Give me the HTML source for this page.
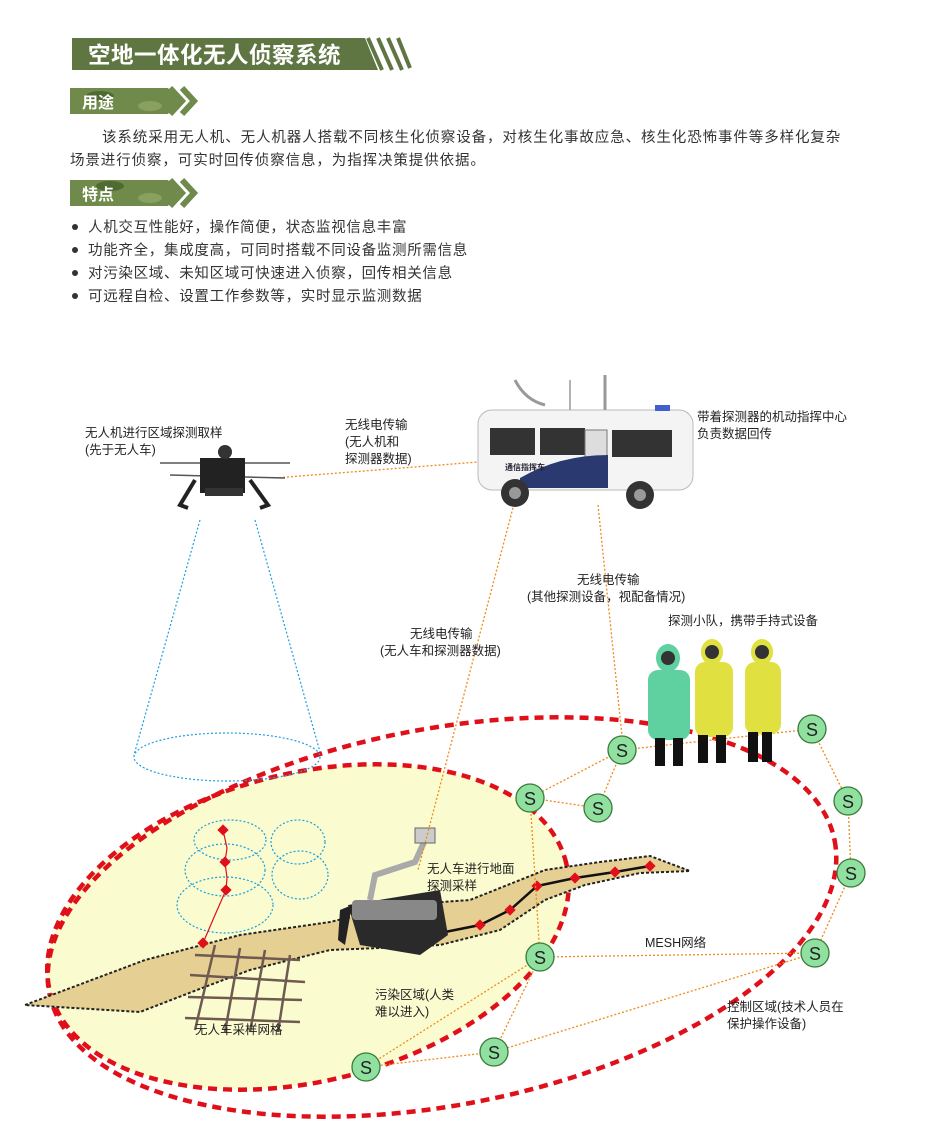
<!DOCTYPE html>
<html><head><meta charset="utf-8"><style>
body{margin:0;background:#fff;}
svg{display:block;font-family:"Liberation Sans","Noto Sans CJK SC",sans-serif;}
.t{font-size:12.5px;fill:#222;}
.p{font-size:14.5px;fill:#333;}
</style></head><body>
<svg width="932" height="1136" viewBox="0 0 932 1136" xmlns="http://www.w3.org/2000/svg">
<!-- header -->
<polygon points="72,38 365,38 378,70 72,70" fill="#5f7642"/>
<g stroke="#5f7642" stroke-width="4">
<line x1="368" y1="38" x2="382" y2="70"/><line x1="378" y1="38" x2="392" y2="70"/>
<line x1="388" y1="38" x2="402" y2="70"/><line x1="398" y1="38" x2="410" y2="68"/>
</g>
<text x="88" y="63" font-size="22.5" font-weight="bold" fill="#fff" letter-spacing="0.5">空地一体化无人侦察系统</text>
<!-- section bars -->
<g>
<polygon points="70,88 168,88 178,101 168,114 70,114" fill="#6f8a4a"/>
<ellipse cx="100" cy="96" rx="14" ry="5" fill="#4f6a32"/><ellipse cx="150" cy="106" rx="12" ry="5" fill="#8aa060"/>
<polyline points="170,88 182,101 170,114" fill="none" stroke="#6f8a4a" stroke-width="6"/>
<polyline points="182,88 194,101 182,114" fill="none" stroke="#6f8a4a" stroke-width="6"/>
<text x="82" y="108" font-size="16" font-weight="bold" fill="#fff">用途</text>
</g>
<g>
<polygon points="70,180 168,180 178,193 168,206 70,206" fill="#6f8a4a"/>
<ellipse cx="110" cy="186" rx="14" ry="5" fill="#4f6a32"/><ellipse cx="150" cy="198" rx="12" ry="5" fill="#8aa060"/>
<polyline points="170,180 182,193 170,206" fill="none" stroke="#6f8a4a" stroke-width="6"/>
<polyline points="182,180 194,193 182,206" fill="none" stroke="#6f8a4a" stroke-width="6"/>
<text x="82" y="200" font-size="16" font-weight="bold" fill="#fff">特点</text>
</g>
<text class="p" x="102" y="142" letter-spacing="0.9">该系统采用无人机、无人机器人搭载不同核生化侦察设备，对核生化事故应急、核生化恐怖事件等多样化复杂</text>
<text class="p" x="70" y="165" letter-spacing="0.9">场景进行侦察，可实时回传侦察信息，为指挥决策提供依据。</text>
<g class="p" letter-spacing="0.7">
<circle cx="75" cy="227" r="3" fill="#333"/><text x="88" y="232">人机交互性能好，操作简便，状态监视信息丰富</text>
<circle cx="75" cy="250" r="3" fill="#333"/><text x="88" y="255">功能齐全，集成度高，可同时搭载不同设备监测所需信息</text>
<circle cx="75" cy="273" r="3" fill="#333"/><text x="88" y="278">对污染区域、未知区域可快速进入侦察，回传相关信息</text>
<circle cx="75" cy="296" r="3" fill="#333"/><text x="88" y="301">可远程自检、设置工作参数等，实时显示监测数据</text>
</g>

<!-- yellow contaminated zone -->
<ellipse cx="308" cy="927" rx="266" ry="154" transform="rotate(-14 308 927)" fill="#fafcd0" stroke="#e0101a" stroke-width="4.5" stroke-dasharray="9,6"/>
<!-- big control zone -->
<ellipse cx="442" cy="917" rx="400" ry="188" transform="rotate(-11 442 917)" fill="none" stroke="#e0101a" stroke-width="4.5" stroke-dasharray="9,6"/>

<!-- cone -->
<g fill="none" stroke="#1aa0e0" stroke-width="1.2" stroke-dasharray="2,2">
<line x1="200" y1="520" x2="134" y2="755"/><line x1="255" y1="520" x2="320" y2="752"/>
<ellipse cx="227" cy="757" rx="93" ry="24"/>
<ellipse cx="230" cy="840" rx="36" ry="20"/><ellipse cx="298" cy="842" rx="27" ry="22"/>
<ellipse cx="225" cy="870" rx="40" ry="26"/><ellipse cx="300" cy="875" rx="28" ry="24"/>
<ellipse cx="225" cy="905" rx="48" ry="28"/>
</g>

<!-- band -->
<polygon points="25,1005 145,960 240,935 330,922 400,905 470,900 520,880 545,870 600,862 650,856 690,871 640,873 585,885 545,900 500,930 440,945 380,948 330,950 250,970 210,985 140,1012" fill="#e6cf93" stroke="#222" stroke-width="2" stroke-dasharray="3,2"/>
<!-- grid -->
<g stroke="#6e5a50" stroke-width="2.5">
<line x1="195" y1="955" x2="300" y2="960"/><line x1="190" y1="975" x2="305" y2="982"/>
<line x1="188" y1="997" x2="302" y2="1000"/><line x1="185" y1="1018" x2="300" y2="1022"/>
<line x1="215" y1="945" x2="195" y2="1030"/><line x1="240" y1="948" x2="225" y2="1032"/>
<line x1="265" y1="950" x2="250" y2="1032"/><line x1="290" y1="955" x2="278" y2="1032"/>
</g>
<!-- red sample line -->
<polyline points="223,830 227,848 225,862 227,878 226,890 215,915 203,943" fill="none" stroke="#e0101a" stroke-width="1.2"/>
<g fill="#e0101a">
<rect x="219" y="826" width="8" height="8" transform="rotate(45 223 830)"/>
<rect x="221" y="858" width="8" height="8" transform="rotate(45 225 862)"/>
<rect x="222" y="886" width="8" height="8" transform="rotate(45 226 890)"/>
<rect x="199" y="939" width="8" height="8" transform="rotate(45 203 943)"/>
</g>
<polyline points="430,935 480,925 510,910 537,886 575,878 615,872 650,866" fill="none" stroke="#111" stroke-width="2.5"/>
<g fill="#e0101a">
<rect x="476" y="921" width="8" height="8" transform="rotate(45 480 925)"/>
<rect x="506" y="906" width="8" height="8" transform="rotate(45 510 910)"/>
<rect x="533" y="882" width="8" height="8" transform="rotate(45 537 886)"/>
<rect x="571" y="874" width="8" height="8" transform="rotate(45 575 878)"/>
<rect x="611" y="868" width="8" height="8" transform="rotate(45 615 872)"/>
<rect x="646" y="862" width="8" height="8" transform="rotate(45 650 866)"/>
</g>

<!-- robot -->
<g>
<polygon points="348,905 440,890 448,935 420,955 360,945" fill="#2a2a2a"/>
<rect x="352" y="900" width="85" height="20" fill="#888" rx="4"/>
<polyline points="370,900 375,875 415,862 425,840" fill="none" stroke="#aaa" stroke-width="6"/>
<rect x="415" y="828" width="20" height="15" fill="#ccc" stroke="#666"/>
<polygon points="340,910 352,905 345,945 338,940" fill="#222"/>
</g>

<!-- orange dotted edges -->
<g stroke="#f08a1a" stroke-width="1.3" stroke-dasharray="2,2" fill="none">
<line x1="275" y1="478" x2="478" y2="462"/>
<line x1="515" y1="500" x2="418" y2="870"/>
<line x1="598" y1="505" x2="622" y2="736"/>
<line x1="622" y1="750" x2="530" y2="798"/><line x1="622" y1="750" x2="598" y2="808"/>
<line x1="622" y1="750" x2="812" y2="729"/><line x1="530" y1="798" x2="598" y2="808"/>
<line x1="812" y1="729" x2="848" y2="801"/><line x1="848" y1="801" x2="851" y2="873"/>
<line x1="851" y1="873" x2="815" y2="953"/><line x1="815" y1="953" x2="540" y2="957"/>
<line x1="815" y1="953" x2="494" y2="1052"/><line x1="530" y1="798" x2="540" y2="957"/>
<line x1="540" y1="957" x2="366" y2="1067"/><line x1="540" y1="957" x2="494" y2="1052"/>
<line x1="494" y1="1052" x2="366" y2="1067"/>
</g>

<!-- drone -->
<g>
<line x1="160" y1="463" x2="290" y2="463" stroke="#555" stroke-width="1.5"/>
<line x1="170" y1="475" x2="285" y2="478" stroke="#555" stroke-width="1.5"/>
<rect x="200" y="458" width="45" height="35" fill="#222"/>
<circle cx="225" cy="452" r="7" fill="#333"/>
<polyline points="195,480 180,505 188,508" fill="none" stroke="#222" stroke-width="4"/>
<polyline points="250,480 268,505 260,508" fill="none" stroke="#222" stroke-width="4"/>
<rect x="205" y="488" width="38" height="8" fill="#333"/>
</g>

<!-- truck -->
<g>
<rect x="478" y="410" width="215" height="80" rx="14" fill="#f4f4f4" stroke="#bbb"/>
<rect x="490" y="428" width="45" height="27" fill="#333"/>
<rect x="540" y="428" width="45" height="27" fill="#333"/>
<rect x="612" y="430" width="60" height="27" fill="#333"/>
<rect x="585" y="430" width="22" height="55" fill="#ddd" stroke="#777"/>
<path d="M520,478 Q560,455 608,455 L608,488 L520,488Z" fill="#2a3a70"/>
<circle cx="515" cy="493" r="14" fill="#333"/><circle cx="640" cy="495" r="14" fill="#333"/>
<circle cx="515" cy="493" r="6" fill="#999"/><circle cx="640" cy="495" r="6" fill="#999"/>
<text x="505" y="470" font-size="8" font-weight="bold" fill="#223">通信指挥车</text>
<path d="M515,380 Q525,400 545,405" fill="none" stroke="#999" stroke-width="3"/>
<line x1="605" y1="375" x2="605" y2="410" stroke="#999" stroke-width="3"/>
<line x1="570" y1="380" x2="570" y2="410" stroke="#999" stroke-width="1.5"/>
<rect x="655" y="405" width="15" height="6" fill="#4060d0"/>
</g>

<!-- people -->
<g>
<ellipse cx="668" cy="658" rx="12" ry="14" fill="#5fd0a0"/>
<rect x="648" y="670" width="42" height="70" rx="10" fill="#5fd0a0"/>
<rect x="655" y="738" width="10" height="28" fill="#111"/><rect x="673" y="738" width="10" height="28" fill="#111"/>
<ellipse cx="712" cy="652" rx="11" ry="13" fill="#e0e040"/>
<rect x="695" y="662" width="38" height="75" rx="10" fill="#e0e040"/>
<rect x="698" y="735" width="10" height="28" fill="#111"/><rect x="716" y="735" width="10" height="28" fill="#111"/>
<ellipse cx="762" cy="652" rx="11" ry="13" fill="#e0e040"/>
<rect x="745" y="662" width="36" height="72" rx="10" fill="#e0e040"/>
<rect x="748" y="732" width="10" height="30" fill="#111"/><rect x="762" y="732" width="10" height="30" fill="#111"/>
<circle cx="668" cy="658" r="7" fill="#333"/><circle cx="712" cy="652" r="7" fill="#333"/><circle cx="762" cy="652" r="7" fill="#333"/>
</g>

<!-- S nodes -->
<g font-size="18" text-anchor="middle" fill="#222">
<g fill="#90e0a0" stroke="#3a7a3a" stroke-width="1.3">
<circle cx="622" cy="750" r="14"/><circle cx="530" cy="798" r="14"/><circle cx="598" cy="808" r="14"/>
<circle cx="812" cy="729" r="14"/><circle cx="848" cy="801" r="14"/><circle cx="851" cy="873" r="14"/>
<circle cx="815" cy="953" r="14"/><circle cx="540" cy="957" r="14"/><circle cx="494" cy="1052" r="14"/>
<circle cx="366" cy="1067" r="14"/>
</g>
<text x="622" y="757">S</text><text x="530" y="805">S</text><text x="598" y="815">S</text>
<text x="812" y="736">S</text><text x="848" y="808">S</text><text x="851" y="880">S</text>
<text x="815" y="960">S</text><text x="540" y="964">S</text><text x="494" y="1059">S</text>
<text x="366" y="1074">S</text>
</g>

<!-- labels -->
<g class="t">
<text x="85" y="437">无人机进行区域探测取样</text><text x="85" y="454">(先于无人车)</text>
<text x="345" y="429">无线电传输</text><text x="345" y="446">(无人机和</text><text x="345" y="463">探测器数据)</text>
<text x="697" y="421">带着探测器的机动指挥中心</text><text x="697" y="438">负责数据回传</text>
<text x="577" y="584">无线电传输</text><text x="527" y="601">(其他探测设备，视配备情况)</text>
<text x="668" y="625">探测小队，携带手持式设备</text>
<text x="410" y="638">无线电传输</text><text x="380" y="655">(无人车和探测器数据)</text>
<text x="427" y="873">无人车进行地面</text><text x="427" y="890">探测采样</text>
<text x="645" y="947">MESH网络</text>
<text x="375" y="999">污染区域(人类</text><text x="375" y="1016">难以进入)</text>
<text x="727" y="1011">控制区域(技术人员在</text><text x="727" y="1028">保护操作设备)</text>
<text x="195" y="1034">无人车采样网格</text>
</g>
</svg>
</body></html>
